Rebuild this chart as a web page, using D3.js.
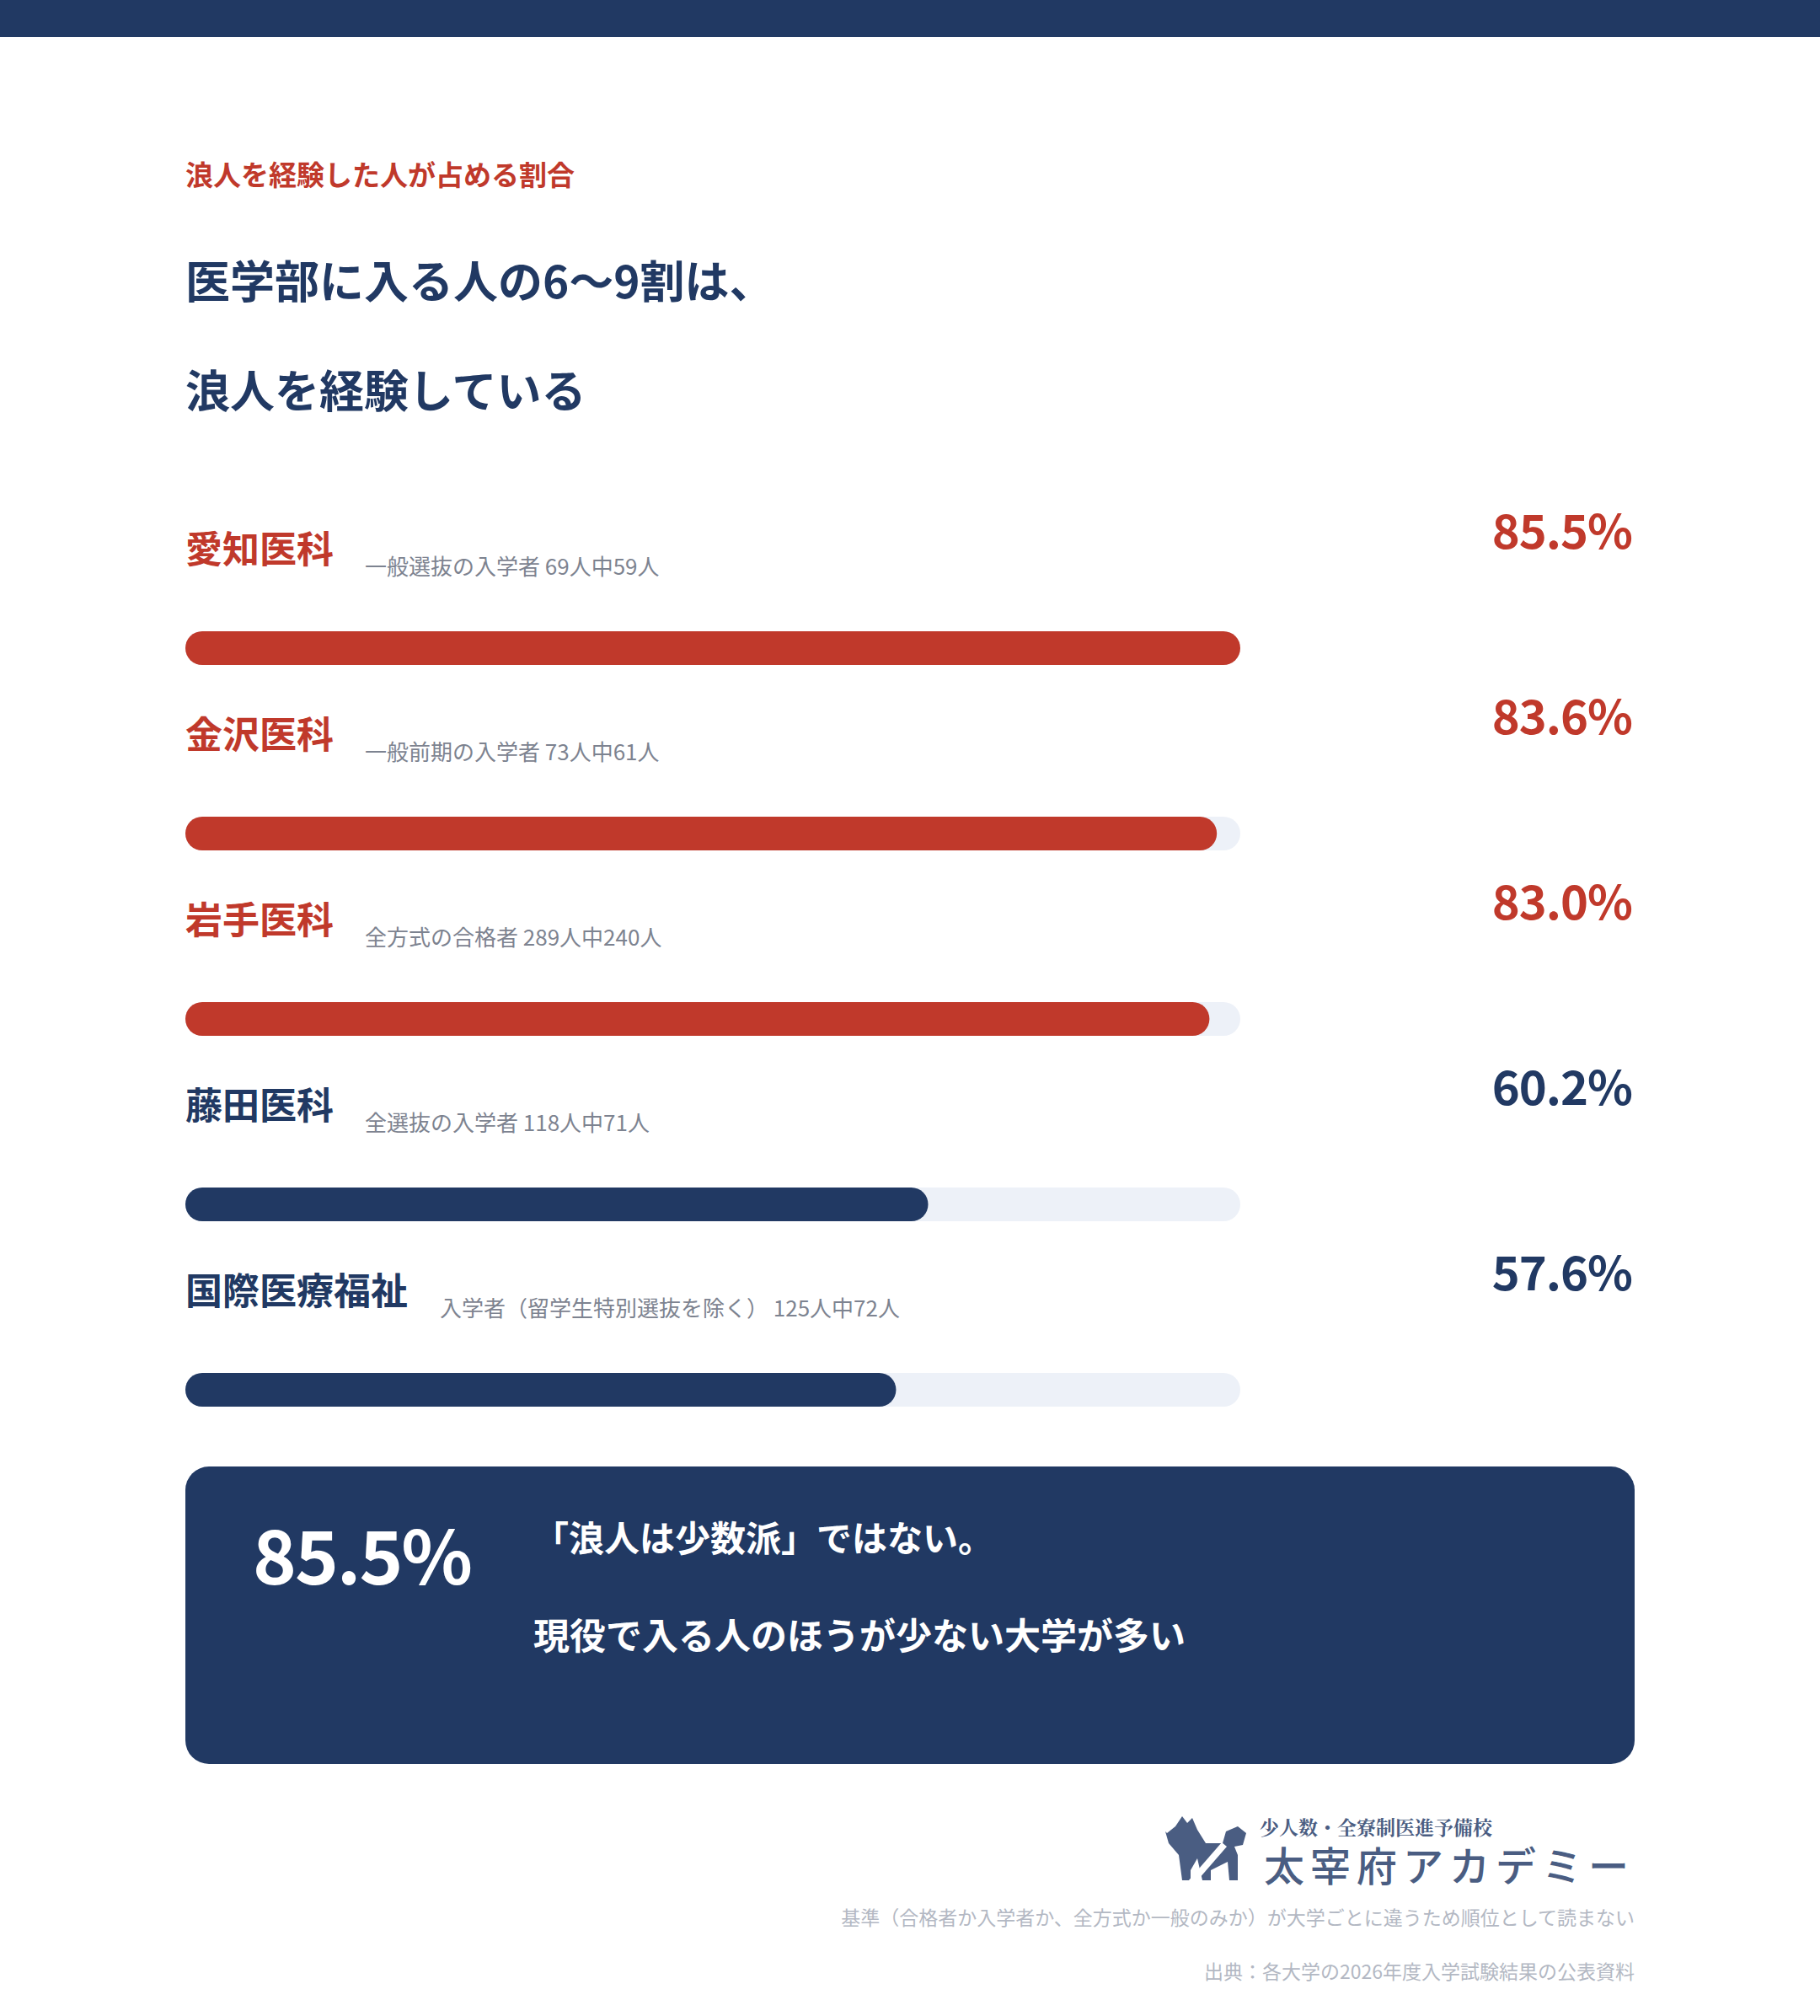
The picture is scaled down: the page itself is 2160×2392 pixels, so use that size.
<!DOCTYPE html>
<html><head><meta charset="utf-8">
<script src="https://cdn.jsdelivr.net/npm/d3@7"></script>
<style>body{margin:0;background:#fff}svg{display:block;font-family:"Noto Sans CJK JP","Noto Sans",sans-serif}</style>
</head><body><div class="chart"></div>
<script>
const schools = ["愛知医科", "金沢医科", "岩手医科", "藤田医科", "国際医療福祉"];
const notes = ["一般選抜の入学者 69人中59人", "一般前期の入学者 73人中61人", "全方式の合格者 289人中240人", "全選抜の入学者 118人中71人", "入学者（留学生特別選抜を除く） 125人中72人"];
const rates = [85.5, 83.6, 83.0, 60.2, 57.6];
const highlight = [true, true, true, false, false];

const width = 2160, height = 2392;
const navy = "#213963", red = "#c0392b", track = "#edf1f8";

const svg = d3.select(".chart").append("svg").attr("width", width).attr("height", height);
svg.append("rect").attr("width", width).attr("height", 44).attr("fill", navy);

svg.append("text").attr("x", 220).attr("y", 220).attr("font-size", 33).attr("font-weight", 700)
    .attr("fill", red).text("浪人を経験した人が占める割合");
svg.append("text").attr("x", 220).attr("y", 354).attr("font-size", 53).attr("font-weight", 700)
    .attr("fill", navy).text("医学部に入る人の6〜9割は、");
svg.append("text").attr("x", 220).attr("y", 484).attr("font-size", 53).attr("font-weight", 700)
    .attr("fill", navy).text("浪人を経験している");

const x = d3.scaleLinear().domain([0, d3.max(rates)]).range([220, 1472]);
const y = d3.scaleBand().domain(schools).range([590, 1690]).paddingInner(0);

const row = svg.selectAll(".row").data(schools).enter().append("g")
    .attr("transform", d => "translate(0," + y(d) + ")");

row.append("text").attr("x", 220).attr("y", 78).attr("font-size", 44).attr("font-weight", 700)
    .attr("fill", (d, i) => highlight[i] ? red : navy).text(d => d);
row.append("text").attr("x", (d, i) => i === 4 ? 522 : 433).attr("y", 92).attr("font-size", 26)
    .attr("fill", "#7d8390").text((d, i) => notes[i]);
row.append("text").attr("x", 1937).attr("y", 61).attr("text-anchor", "end").attr("font-size", 56)
    .attr("font-weight", 700).attr("letter-spacing", -1).attr("fill", (d, i) => highlight[i] ? red : navy)
    .text((d, i) => rates[i].toFixed(1) + "%");
row.append("rect").attr("x", 220).attr("y", 159).attr("height", 40).attr("rx", 20)
    .attr("width", x(d3.max(rates)) - 220).attr("fill", track);
row.append("rect").attr("x", 220).attr("y", 159).attr("height", 40).attr("rx", 20)
    .attr("width", (d, i) => x(rates[i]) - 220).attr("fill", (d, i) => highlight[i] ? red : navy);

// summary box
svg.append("rect").attr("x", 220).attr("y", 1740).attr("width", 1720).attr("height", 353)
    .attr("rx", 28).attr("fill", navy);
svg.append("text").attr("x", 300).attr("y", 1880).attr("font-size", 88).attr("font-weight", 700)
    .attr("letter-spacing", -2).attr("fill", "#fff").text(rates[0].toFixed(1) + "%");
svg.append("text").attr("x", 633).attr("y", 1841).attr("font-size", 42).attr("font-weight", 700)
    .attr("fill", "#fff").text("「浪人は少数派」ではない。");
svg.append("text").attr("x", 633).attr("y", 1957).attr("font-size", 43).attr("font-weight", 700)
    .attr("fill", "#fff").text("現役で入る人のほうが少ない大学が多い");

// logo
const logo = svg.append("g").attr("fill", "#4a5d82");
logo.append("path").attr("d", "M1385,2175 l10,-8 l8,-12 l6,8 l6,-6 l6,14 l10,16 l20,0 l4,-14 l14,-6 l10,8 l-4,14 l-10,2 l4,10 l0,30 l-10,0 l-2,-22 l-20,10 l0,12 l-10,0 l-6,-26 l-8,14 l0,12 l-10,0 l-4,-30 l-12,-14 l-4,-14 z");
logo.append("path").attr("d", "M1410,2232 l40,-46 l6,5 l-40,46 z").attr("fill", "#fff");
logo.append("text").attr("x", 1495).attr("y", 2177).attr("font-size", 23).attr("font-weight", 700)
    .attr("font-family", "'Noto Serif CJK JP','DejaVu Serif',serif").text("少人数・全寮制医進予備校");
logo.append("text").attr("x", 1940).attr("y", 2232).attr("text-anchor", "end").attr("font-size", 48)
    .attr("font-weight", 500).attr("letter-spacing", 7).text("太宰府アカデミー");

svg.append("text").attr("x", 1940).attr("y", 2284).attr("text-anchor", "end").attr("font-size", 23)
    .attr("fill", "#b3b8c3").text("基準（合格者か入学者か、全方式か一般のみか）が大学ごとに違うため順位として読まない");
svg.append("text").attr("x", 1940).attr("y", 2348).attr("text-anchor", "end").attr("font-size", 23)
    .attr("fill", "#b3b8c3").text("出典：各大学の2026年度入学試験結果の公表資料");
</script></body></html>
